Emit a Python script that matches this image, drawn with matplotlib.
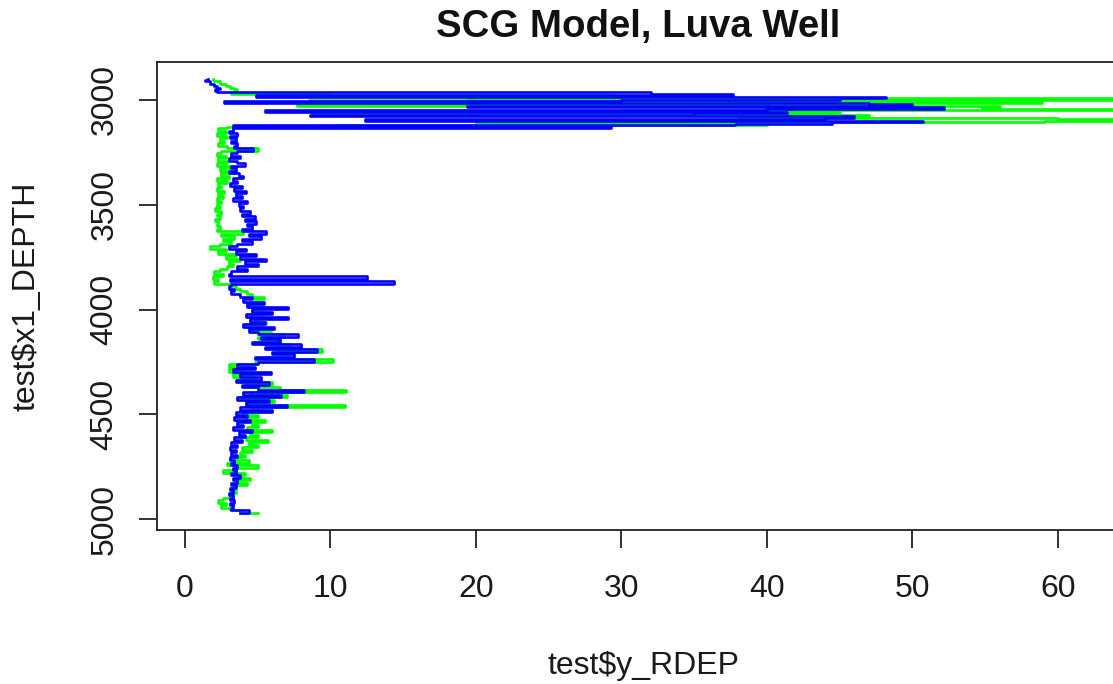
import matplotlib

matplotlib.use("Agg")

import matplotlib.pyplot as plt

TITLE = "SCG Model, Luva Well"
X_LABEL = "test$y_RDEP"
Y_LABEL = "test$x1_DEPTH"
X_TICKS = [0, 10, 20, 30, 40, 50, 60]
Y_TICKS = [3000, 3500, 4000, 4500, 5000]

# shared depth samples (m)
DEPTH = [
    2901, 2905, 2912, 2922, 2932, 2942, 2948,
    2955, 2962, 2970, 2977, 2984, 2991, 2998, 3006, 3013, 3020, 3027, 3034, 3042,
    3049, 3056, 3063, 3070, 3078, 3085, 3092, 3099, 3106, 3114, 3121, 3127,
    3134, 3146, 3158, 3170, 3182, 3194, 3206, 3218, 3230, 3242, 3254, 3266, 3278,
    3290, 3302, 3314, 3326, 3338, 3350, 3362, 3374, 3386, 3398, 3410, 3422, 3434,
    3446, 3458, 3470, 3482, 3494, 3506, 3518, 3530, 3542, 3554, 3566, 3578, 3590,
    3602, 3614, 3626, 3638, 3650, 3662, 3674, 3686, 3698, 3710, 3722, 3734, 3746,
    3758, 3770, 3782, 3794, 3806, 3818, 3830, 3842, 3854, 3866, 3878, 3890, 3902,
    3914, 3926, 3938, 3950, 3962, 3974, 3986, 3998, 4010, 4022, 4034, 4046, 4058,
    4070, 4082, 4094, 4106, 4118, 4130, 4142, 4154, 4166, 4178, 4190, 4202, 4214,
    4226, 4238, 4250, 4262, 4274, 4286, 4298, 4310, 4322, 4334, 4346, 4358, 4370,
    4382, 4394, 4406, 4418, 4430, 4442, 4454, 4466, 4478, 4490, 4502, 4514, 4526,
    4538, 4550, 4562, 4574, 4586, 4598, 4610, 4622, 4634, 4646, 4658, 4670, 4682,
    4694, 4706, 4718, 4730, 4742, 4754, 4766, 4778, 4790, 4802, 4814, 4826, 4838,
    4850, 4862, 4874, 4886, 4898, 4910, 4922, 4934, 4946, 4958, 4970,
]

# measured RDEP (green)
ACTUAL = [
    1.9, 2.0, 2.4, 2.8, 3.1, 3.4, 3.6,
    3.4, 3.2, 10.0, 29.5, 19.4, 70.0, 8.5, 58.9, 40.0, 7.7, 56.0, 54.8, 68.0,
    30.0, 45.0, 8.7, 47.0, 38.0, 60.0, 70.0, 59.1, 20.0, 40.0, 10.4, 2.9,
    2.3, 2.8, 2.2, 2.9, 2.4, 2.7, 2.3, 2.9, 5.0, 2.5, 2.2, 2.8, 2.3,
    2.9, 2.2, 3.1, 2.4, 3.4, 2.5, 3.0, 2.2, 2.9, 2.3, 2.5, 2.2, 2.7,
    2.3, 2.6, 2.2, 2.5, 2.2, 2.4, 2.1, 2.5, 2.2, 2.4, 2.1, 2.3, 2.2,
    2.4, 2.2, 4.0, 2.5, 3.4, 2.6, 3.2, 2.4, 1.7, 2.8, 2.3, 3.5, 2.8,
    3.8, 3.0, 3.3, 2.9, 2.4, 2.0, 2.6, 1.9, 2.3, 2.0, 3.3, 3.5, 3.8,
    4.3, 4.6, 5.4, 4.8, 5.2, 4.4, 5.4, 4.7, 5.5, 4.5, 5.2, 4.8, 5.6,
    4.2, 5.3, 4.6, 5.9, 6.8, 5.0, 6.3, 5.2, 7.2, 6.0, 9.4, 6.4, 7.0,
    5.6, 10.2, 4.8, 3.0, 4.2, 3.0, 4.6, 3.3, 4.8, 3.6, 6.0, 4.2, 6.5,
    11.1, 4.5, 7.0, 3.8, 6.1, 4.4, 11.0, 4.6, 5.2, 4.0, 5.0, 4.2, 5.5,
    4.6, 5.0, 4.3, 6.0, 4.5, 5.0, 4.2, 5.7, 4.4, 5.0, 3.9, 4.6, 3.8,
    4.1, 3.5, 4.4, 2.9, 5.0, 3.3, 2.6, 4.1, 3.6, 4.5, 3.7, 4.3, 3.4,
    3.2, 3.5, 3.0, 3.3, 2.6, 2.3, 2.8, 2.5, 3.1, 3.8, 5.0,
]

# SCG model prediction (blue)
PREDICTED = [
    1.6, 1.4, 1.7, 2.0, 2.2, 2.4, 2.1,
    2.2, 32.0, 37.7, 4.9, 48.2, 45.0, 30.0, 2.7, 47.0, 50.0, 19.4, 52.2, 40.0,
    5.5, 41.4, 35.0, 8.6, 46.0, 44.0, 12.4, 50.7, 44.5, 37.8, 3.3, 29.3,
    3.3, 3.0, 3.6, 3.1, 3.5, 3.2, 3.6, 3.4, 4.7, 3.6, 3.2, 3.8, 3.0,
    3.6, 4.1, 3.2, 3.5, 3.0, 3.7, 4.0, 3.3, 3.6, 3.1, 3.9, 3.4, 4.2,
    3.5, 3.9, 3.3, 4.3, 3.7, 4.0, 3.8, 4.5, 3.9, 4.8, 4.1, 4.9, 4.3,
    4.6, 3.9, 5.6, 4.4, 5.2, 3.9, 4.6, 3.6, 3.0, 4.2, 3.5, 4.9, 3.8,
    5.6, 4.1, 5.0, 3.6, 4.3, 3.2, 3.0, 12.5, 3.1, 14.4, 3.2, 3.0, 3.4,
    3.2, 3.8, 4.6, 4.0, 5.4, 4.3, 7.1, 4.6, 6.0, 4.2, 7.1, 4.5, 5.5,
    4.0, 6.1, 4.4, 5.0, 7.8, 5.2, 6.5, 4.6, 8.0, 5.5, 9.1, 6.0, 7.5,
    4.8, 8.9, 5.0, 3.6, 4.8, 3.3, 5.9, 3.8, 5.2, 3.5, 5.8, 3.9, 5.0,
    8.2, 4.0, 6.6, 3.6, 5.8, 4.2, 7.0, 3.8, 6.0, 3.5, 4.3, 3.4, 4.5,
    3.6, 4.0, 3.3, 4.6, 3.7, 4.1, 3.4, 3.9, 3.2, 3.6, 3.1, 3.5, 3.2,
    3.6, 3.1, 3.4, 3.2, 3.6, 3.3, 3.5, 3.2, 3.8, 3.3, 3.6, 3.2, 3.5,
    3.1, 3.3, 3.0, 3.3, 3.1, 3.4, 3.1, 3.3, 3.2, 4.4, 3.8,
]

W, H = 1113, 684
plt.rcParams["font.family"] = ["Liberation Sans", "DejaVu Sans"]

fig = plt.figure(figsize=(W / 100, H / 100), dpi=100)
# plot box: left 157px, top 62px, bottom 530px, right edge just past the crop
ax = fig.add_axes([157 / W, (H - 530) / H, (1119 - 157) / W, 468 / H])

# log-style steps: value held over each depth sample
ax.plot(ACTUAL, DEPTH, color="#00ff00", lw=1.9, drawstyle="steps-pre")
ax.plot(PREDICTED, DEPTH, color="#0000ff", lw=1.9, drawstyle="steps-pre")

ax.set_xticks(X_TICKS)
ax.set_yticks(Y_TICKS)
ax.set_xlim(-1.92, 64.2)
ax.set_ylim(5052, 2819)
ax.set_yticklabels([str(t) for t in Y_TICKS], rotation=90, va="center")

for spine in ax.spines.values():
    spine.set_linewidth(1.3)
    spine.set_color("#222222")
ax.tick_params(axis="both", direction="out", length=13, width=1.3,
               color="#222222", labelsize=23, labelcolor="#1a1a1a")
ax.tick_params(axis="x", pad=19)
ax.tick_params(axis="y", pad=14)

fig.text(638 / W, 1 - 27 / H, TITLE, ha="center", va="center",
         fontsize=27.6, fontweight="bold", color="#111111")
fig.text(643 / W, 1 - 666 / H, X_LABEL, ha="center", va="center",
         fontsize=23, color="#1a1a1a")
fig.text(27 / W, 1 - 296 / H, Y_LABEL, ha="center", va="center",
         rotation=90, fontsize=23, color="#1a1a1a")

fig.savefig("out.png", dpi=100, facecolor="white")
